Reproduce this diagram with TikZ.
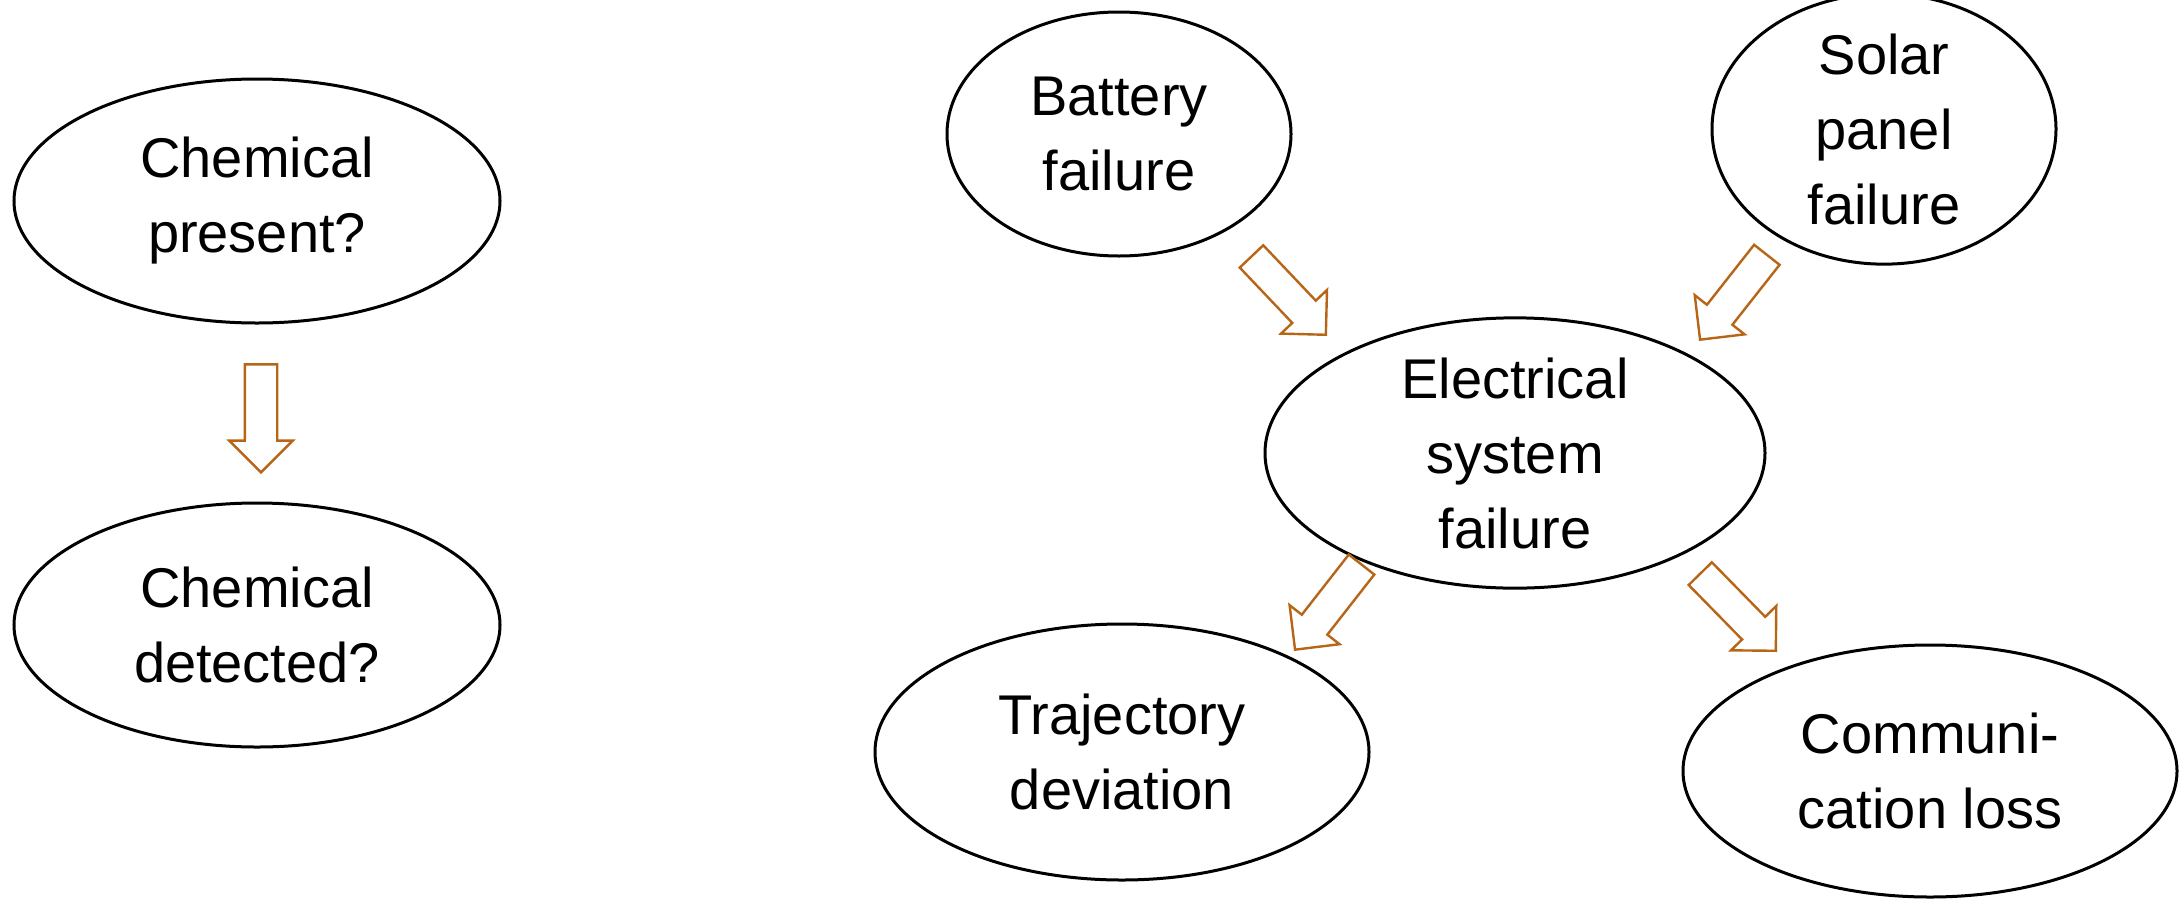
\documentclass[tikz,border=0pt]{standalone}
\usepackage{fontspec}
\setmainfont{Liberation Sans}
\usetikzlibrary{shapes.geometric,shapes.arrows}
\definecolor{arrowbrown}{RGB}{183,101,22}
\tikzset{
  event/.style={ellipse, draw=black, line width=1.5pt, inner sep=0pt, align=center,
    font=\fontsize{28}{37.5}\selectfont},
  blockarrow/.style={single arrow, draw=arrowbrown, line width=1.2pt, fill=white,
    inner xsep=0pt, inner ysep=7.5pt, minimum height=54pt, anchor=tip,
    single arrow head extend=7.75pt, single arrow tip angle=90, single arrow head indent=0pt}
}
\begin{document}
\begin{tikzpicture}[x=0.5pt, y=-0.5pt]
\useasboundingbox (0,0) rectangle (2179,900);
% left chain
\node[event, minimum width=243pt, minimum height=122pt] (cp) at (257,201) {Chemical\\present?};
\node[event, minimum width=243pt, minimum height=122pt] (cd) at (257,625) {Chemical\\detected?};
% right chain
\node[event, minimum width=172pt, minimum height=122pt] (bat) at (1119,134) {Battery\\failure};
\node[event, minimum width=172pt, minimum height=122pt] (sol) at (1884,129) {Solar\\panel\\failure};
\node[event, minimum width=250pt, minimum height=131pt] (ele) at (1515,453) {Electrical\\system\\failure};
\node[event, minimum width=247pt, minimum height=128pt] (tra) at (1122,752) {Trajectory\\deviation};
\node[event, minimum width=247pt, minimum height=126pt] (com) at (1930,771) {Communi-\\cation loss};
% block arrows (placed by their tips)
\node[blockarrow, rotate=-90] (a1) at (261,474) {};
\node[blockarrow, rotate=-46.5] (a2) at (1327,336) {};
\node[blockarrow, rotate=-128.2] (a3) at (1699,341) {};
\node[blockarrow, rotate=-128] (a4) at (1294,651) {};
\node[blockarrow, rotate=-45.6] (a5) at (1777,652) {};
\end{tikzpicture}
\end{document}
